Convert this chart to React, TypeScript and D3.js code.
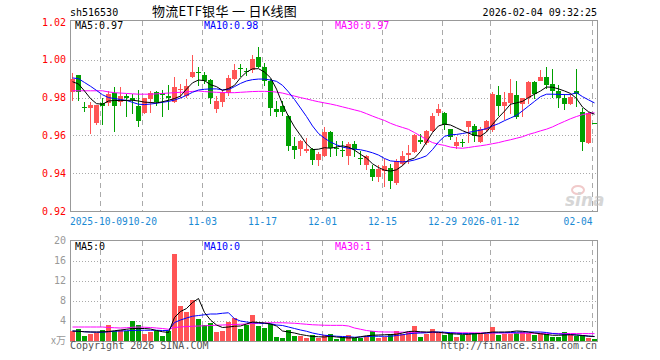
import React from 'react';
import * as d3 from 'd3';

const opens = [0.983,0.992,0.975,0.9744,0.9665,0.977,0.9772,0.9825,0.9775,0.9811,
0.9798,0.9754,0.9721,0.9793,0.9832,0.9825,0.981,0.9775,0.984,0.9811,
0.9907,0.9935,0.992,0.9895,0.974,0.9775,0.9825,0.99,0.9958,0.994,
0.9945,1.0015,0.996,0.989,0.974,0.9755,0.9705,0.9543,0.9527,0.952,
0.953,0.947,0.949,0.962,0.9535,0.9525,0.949,0.9556,0.948,0.9442,
0.942,0.938,0.941,0.9428,0.935,0.945,0.9498,0.951,0.9577,0.9562,
0.9621,0.9718,0.972,0.9632,0.9545,0.9563,0.9644,0.965,0.9565,0.9626,
0.9626,0.9816,0.9754,0.9772,0.9816,0.9767,0.9796,0.9884,0.9889,0.9907,
0.9872,0.9833,0.9798,0.9767,0.9837,0.9723,0.9562,0.9665];
const highs = [0.993,0.992,0.9775,0.9775,0.9763,0.9798,0.9837,0.9854,0.9854,0.9819,
0.9817,0.984,0.98,0.9837,0.9837,0.984,0.9867,0.9911,0.987,0.9898,
1.0026,0.9963,0.9935,0.99,0.981,0.984,0.9918,0.9978,0.998,0.9955,
1.0026,1.0068,0.9985,0.99,0.9784,0.978,0.971,0.959,0.9578,0.9585,
0.9535,0.951,0.9645,0.9625,0.957,0.957,0.9565,0.957,0.952,0.9495,
0.9442,0.9442,0.9477,0.9447,0.9477,0.9516,0.9547,0.961,0.9605,0.963,
0.972,0.9767,0.9725,0.9635,0.959,0.9583,0.9675,0.966,0.9645,0.968,
0.983,0.9863,0.983,0.9898,0.989,0.98,0.9886,0.9886,0.9946,0.996,
0.995,0.9868,0.9819,0.982,0.995,0.9746,0.9725,0.9668];
const lows = [0.978,0.978,0.9723,0.9605,0.9653,0.9653,0.9753,0.9618,0.9758,0.97,
0.9714,0.9647,0.9714,0.9717,0.9758,0.97,0.9735,0.977,0.98,0.98,
0.9904,0.9863,0.987,0.9765,0.972,0.975,0.981,0.9893,0.991,0.9915,
0.993,0.9958,0.986,0.9705,0.97,0.9705,0.9516,0.9477,0.949,0.9505,
0.9446,0.9437,0.9485,0.9486,0.949,0.9486,0.9442,0.9486,0.9442,0.9416,
0.936,0.9356,0.9325,0.9316,0.9337,0.9437,0.9447,0.9505,0.9556,0.955,
0.962,0.9705,0.9626,0.9574,0.953,0.9538,0.956,0.9565,0.956,0.962,
0.962,0.9705,0.968,0.9714,0.9688,0.9696,0.9767,0.979,0.9886,0.9846,
0.98,0.9746,0.9735,0.9763,0.9749,0.9518,0.9555,0.966];
const closes = [0.99,0.983,0.9745,0.9763,0.9763,0.9754,0.9819,0.9754,0.9811,0.9798,
0.9785,0.9675,0.9798,0.9825,0.9775,0.9814,0.98,0.9854,0.9845,0.9863,
0.9937,0.9932,0.989,0.98,0.978,0.9822,0.9905,0.9945,0.9955,0.9935,
1.0005,0.9963,0.989,0.9745,0.9723,0.9723,0.9543,0.9525,0.957,0.953,
0.9468,0.95,0.962,0.9535,0.9528,0.9515,0.9556,0.953,0.9475,0.9491,
0.938,0.942,0.944,0.936,0.9463,0.949,0.9507,0.96,0.9566,0.9621,
0.9705,0.9742,0.9653,0.9591,0.9565,0.956,0.9674,0.9595,0.9635,0.9674,
0.982,0.9754,0.9775,0.9825,0.9696,0.9796,0.9884,0.9819,0.9911,0.9868,
0.9833,0.9798,0.9767,0.9805,0.9819,0.9565,0.972,0.9662];
const volumes = [1.9,2.37,0.9,1.37,1.5,2.17,3.03,1.83,2.03,1.83,
3.9,3.03,1.37,1.7,1.83,0.9,1.9,17.3,6.9,5.7,
8.03,4.23,3.03,3.5,1.7,1.9,3.7,4.5,2.37,3.03,
5.1,2.9,2.5,3.23,0.7,0.5,2.03,0.9,0.9,0.5,
1.03,0.57,1.17,1.3,0.23,0.63,1.03,0.57,0.5,0.9,
1.83,0.5,0.7,1.23,1.9,1.23,1.7,2.9,0.7,1.37,
2.3,1.5,1.17,1.57,0.7,1.03,1.23,1.5,1.23,1.3,
2.7,1.17,1.23,1.3,1.57,1.7,1.5,1.17,1.5,1.23,
0.7,0.7,1.7,1.17,0.9,1.03,0.5,0.3];
const ma5 = [0.9884,0.9872,0.9835,0.9795,0.9768,0.9765,0.9782,0.9785,0.9784,0.9785,
0.9786,0.9782,0.9776,0.9774,0.9772,0.9778,0.9786,0.9795,0.9808,0.9845,
0.9878,0.9893,0.989,0.9868,0.9858,0.9838,0.9848,0.9865,0.9905,0.9935,
0.9952,0.9953,0.9935,0.9905,0.9845,0.9765,0.97,0.9645,0.96,0.9555,
0.9525,0.9527,0.9535,0.9532,0.9538,0.9545,0.9538,0.9522,0.95,0.948,
0.945,0.943,0.9416,0.9411,0.9418,0.944,0.947,0.948,0.9515,0.9565,
0.9615,0.965,0.966,0.9655,0.964,0.9625,0.9612,0.96,0.9596,0.9618,
0.9658,0.9695,0.9728,0.9765,0.9772,0.978,0.98,0.9818,0.9835,0.9856,
0.9855,0.9846,0.9835,0.9822,0.9795,0.975,0.9725,0.9712];
const ma10 = [0.9904,0.99,0.988,0.986,0.9838,0.9815,0.98,0.9795,0.979,0.9785,
0.9775,0.9765,0.9763,0.9766,0.977,0.9775,0.978,0.9787,0.9798,0.9812,
0.9828,0.984,0.9844,0.9846,0.9846,0.9841,0.9842,0.9858,0.9875,0.9888,
0.9895,0.9898,0.9898,0.9893,0.9886,0.9865,0.983,0.979,0.9745,0.97,
0.965,0.961,0.9585,0.9565,0.955,0.9538,0.9532,0.9527,0.9524,0.9517,
0.9508,0.9496,0.9478,0.9465,0.9462,0.946,0.9463,0.947,0.948,0.9492,
0.9525,0.9565,0.9595,0.9603,0.9605,0.961,0.9616,0.9622,0.9628,0.9636,
0.965,0.9662,0.9678,0.9692,0.9706,0.973,0.9755,0.978,0.9805,0.9818,
0.9818,0.9817,0.9816,0.9816,0.9826,0.9805,0.9788,0.9772];
const ma30 = [0.9836,0.9836,0.9836,0.9836,0.9836,0.9836,0.983,0.9826,0.9824,0.9822,
0.982,0.9818,0.9818,0.9818,0.982,0.9822,0.9824,0.9826,0.9828,0.983,
0.9833,0.9835,0.9832,0.983,0.9828,0.9827,0.9826,0.9826,0.9828,0.983,
0.9832,0.9833,0.9833,0.9832,0.9829,0.9824,0.9816,0.9808,0.98,0.9793,
0.9785,0.9778,0.9772,0.9766,0.9759,0.9751,0.9743,0.9735,0.9727,0.9715,
0.9702,0.969,0.9679,0.9664,0.9652,0.9642,0.9632,0.9615,0.9597,0.9578,
0.9562,0.9553,0.9547,0.9538,0.9534,0.9532,0.9536,0.9541,0.9545,0.955,
0.9556,0.9562,0.957,0.9577,0.9585,0.9593,0.9605,0.9614,0.9624,0.9633,
0.9645,0.966,0.9674,0.9688,0.97,0.971,0.9716,0.972];
const volMa5 = [1.9,1.85,1.75,1.7,1.7,1.72,1.8,1.95,2.1,2.25,
2.4,2.4,2.4,2.3,2.0,1.75,1.6,4.6,5.8,6.4,
7.6,8.4,5.6,4.1,3.1,2.6,2.7,2.85,2.9,3.3,
3.7,3.6,3.5,3.3,2.9,1.9,1.7,1.5,1.2,1.0,
0.8,0.75,0.7,0.85,0.7,0.6,0.5,0.55,0.75,0.95,
1.05,1.1,1.15,1.2,1.25,1.5,1.8,1.85,1.75,1.7,
1.7,1.65,1.5,1.35,1.28,1.23,1.25,1.35,1.4,1.55,
1.7,1.7,1.7,1.75,1.9,1.85,1.7,1.5,1.35,1.2,
1.05,1.05,1.1,1.15,1.1,1.0,0.85,0.8];
const volMa10 = [1.9,1.85,1.75,1.7,1.65,1.65,1.75,1.85,1.9,1.95,
2.0,2.05,2.05,2.05,2.05,2.0,2.0,3.6,4.1,4.5,
4.85,5.0,5.15,5.3,5.3,5.45,5.55,4.35,3.9,3.7,
3.55,3.5,3.4,3.35,3.1,3.0,2.7,2.4,2.1,1.85,
1.5,1.25,1.05,0.95,0.85,0.8,0.75,0.65,0.7,0.8,
0.85,0.85,0.85,0.85,1.0,1.15,1.35,1.45,1.5,1.55,
1.7,1.7,1.65,1.55,1.45,1.38,1.38,1.38,1.4,1.48,
1.57,1.57,1.57,1.6,1.65,1.7,1.7,1.7,1.7,1.6,
1.4,1.3,1.25,1.2,1.1,1.0,0.9,0.8];
const volMa30 = [2.7,2.7,2.7,2.7,2.7,2.7,2.6,2.55,2.5,2.55,
2.65,2.7,2.65,2.6,2.5,2.4,2.25,2.6,2.7,2.8,
2.85,2.9,2.95,3.0,3.05,3.1,3.15,3.2,3.25,3.3,
3.4,3.45,3.5,3.55,3.55,3.55,3.5,3.45,3.35,3.25,
3.15,3.1,3.05,3.03,3.03,3.03,2.9,2.5,2.25,2.0,
1.85,1.75,1.7,1.7,1.68,1.66,1.65,1.63,1.62,1.6,
1.6,1.58,1.57,1.56,1.55,1.55,1.54,1.53,1.52,1.51,
1.5,1.5,1.49,1.48,1.47,1.46,1.45,1.45,1.44,1.43,
1.42,1.41,1.4,1.4,1.39,1.38,1.38,1.37];

const priceTicks = [0.92, 0.94, 0.96, 0.98, 1.0, 1.02];
const priceGrid = [0.94, 0.96, 0.98, 1.0];
const volTicks = [4, 8, 12, 16, 20];
const volGrid = [4, 8, 12, 16];
const dateLabels = ['2025-10-09', '10-20', '11-03', '11-17', '12-01', '12-15', '12-29', '2026-01-12', '02-04'];
const dateIndex = [5, 12, 22, 32, 42, 52, 62, 70, 87];

const RED = '#ff5555';
const GREEN = '#00a000';
const MONO = '"DejaVu Sans Mono", "Liberation Mono", monospace';

export default function App() {
  const n = closes.length;
  const x = d3.scaleLinear().domain([0, n]).range([70, 70 + 6 * n]);
  const y = d3.scaleLinear().domain([0.92, 1.02]).range([211, 22]);
  const yv = d3.scaleLinear().domain([0, 20]).range([340.5, 240.5]);
  const cx = (i: number) => x(i) + 2.5;

  const priceLine = d3.line<number>().x((_, i) => cx(i)).y((d) => y(d));
  const volLine = d3.line<number>().x((_, i) => cx(i)).y((d) => yv(d));

  const L = 70, R = 597;
  const gridColor = '#aaaaaa';

  return (
    <svg width={660} height={360} style={{ position: 'absolute', left: 0, top: 0, background: '#fff' }}
      fontFamily={MONO} fontSize={10}>
      <rect x={0} y={0} width={660} height={360} fill="#fff" />
      {/* header */}
      <text x={70} y={16} fill="#000">sh516530</text>
      <text x={152} y={16} fill="#000" fontFamily='"Noto Sans CJK SC", sans-serif' fontSize={13} letterSpacing={0.3}>物流ETF银华 一 日K线图</text>
      <text x={597} y={16} fill="#000" textAnchor="end">2026-02-04 09:32:25</text>

      {/* main grid */}
      {priceGrid.map((p) => (
        <line key={'pg' + p} x1={L} x2={R} y1={Math.round(y(p)) + 0.5} y2={Math.round(y(p)) + 0.5}
          stroke={gridColor} strokeDasharray="1,2" shapeRendering="crispEdges" />
      ))}
      {dateIndex.map((k) => (
        <g key={'dg' + k}>
          <line x1={x(k) + 0.5} x2={x(k) + 0.5} y1={21} y2={211} stroke={gridColor} strokeDasharray="5,4" shapeRendering="crispEdges" />
          <line x1={x(k) + 0.5} x2={x(k) + 0.5} y1={241} y2={341} stroke={gridColor} strokeDasharray="5,4" shapeRendering="crispEdges" />
        </g>
      ))}
      {volGrid.map((v) => (
        <line key={'vg' + v} x1={L} x2={R} y1={Math.round(yv(v)) + 0.5} y2={Math.round(yv(v)) + 0.5}
          stroke={gridColor} strokeDasharray="1,2" shapeRendering="crispEdges" />
      ))}

      {/* borders */}
      <rect x={70.5} y={20.5} width={527} height={190.5} fill="none" stroke="#999" shapeRendering="crispEdges" />
      <rect x={70.5} y={240.5} width={527} height={100.5} fill="none" stroke="#999" shapeRendering="crispEdges" />

      {/* price axis labels */}
      {priceTicks.map((p) => (
        <text key={'pt' + p} x={66} y={y(p) + 3.5} fill="#ff0000" textAnchor="end">{p.toFixed(2)}</text>
      ))}
      {/* date labels: first clamped to the left edge, last to the right edge */}
      {dateIndex.map((k, j) => {
        const first = j === 0;
        const last = j === dateIndex.length - 1;
        return (
          <text key={'dl' + k} x={first ? 70 : x(k) + 0.5} y={225} fill="#1a8ad4" fontSize={9.6}
            textAnchor={first ? 'start' : last ? 'end' : 'middle'}>{dateLabels[j]}</text>
        );
      })}

      {/* sina watermark */}
      <g opacity={0.6}>
        <ellipse cx={578} cy={190} rx={6} ry={4} fill="none" stroke="#e8a8a8" strokeWidth={2} />
        <text x={565} y={206} fill="#bbbbbb" fontFamily='"DejaVu Sans", sans-serif' fontSize={17} fontWeight="bold" fontStyle="italic">sina</text>
      </g>

      {/* candles */}
      {closes.map((c, i) => {
        const o = opens[i];
        const up = c >= o;
        const col = up ? RED : GREEN;
        const top = Math.round(y(Math.max(o, c)));
        const bot = Math.round(y(Math.min(o, c)));
        const hy = Math.round(y(highs[i]));
        const ly = Math.round(y(lows[i]));
        return (
          <g key={'c' + i} shapeRendering="crispEdges">
            <rect x={x(i) + 2} y={hy} width={1} height={Math.max(1, ly - hy)} fill={col} />
            <rect x={x(i)} y={top} width={5} height={Math.max(1, bot - top)} fill={col} />
          </g>
        );
      })}

      {/* price MAs */}
      <path d={priceLine(ma30) || ''} fill="none" stroke="#ff00ff" strokeWidth={1} />
      <path d={priceLine(ma10) || ''} fill="none" stroke="#0000ff" strokeWidth={1} />
      <path d={priceLine(ma5) || ''} fill="none" stroke="#000000" strokeWidth={1} />

      <text x={75} y={29} fill="#000">MA5:0.97</text>
      <text x={204} y={29} fill="#0000ff">MA10:0.98</text>
      <text x={335} y={29} fill="#ff00ff">MA30:0.97</text>

      {/* volume axis labels */}
      {volTicks.map((v) => (
        <text key={'vt' + v} x={66} y={yv(v) + 3.5} fill="#999" textAnchor="end">{v}</text>
      ))}
      <text x={66} y={344} fill="#999" textAnchor="end" fontFamily='"Noto Sans CJK SC", sans-serif' fontSize={10}>x万</text>

      {/* volume bars */}
      {volumes.map((v, i) => {
        const up = closes[i] >= opens[i];
        const top = Math.round(yv(v));
        return (
          <rect key={'v' + i} x={x(i)} y={top} width={5} height={Math.max(1, 341 - top)}
            fill={up ? RED : GREEN} shapeRendering="crispEdges" />
        );
      })}

      <path d={volLine(volMa30) || ''} fill="none" stroke="#ff00ff" strokeWidth={1} />
      <path d={volLine(volMa10) || ''} fill="none" stroke="#0000ff" strokeWidth={1} />
      <path d={volLine(volMa5) || ''} fill="none" stroke="#000000" strokeWidth={1} />

      <text x={75} y={250} fill="#000">MA5:0</text>
      <text x={204} y={250} fill="#0000ff">MA10:0</text>
      <text x={335} y={250} fill="#ff00ff">MA30:1</text>

      {/* footer */}
      <text x={70} y={349} fill="#555">Copyright 2026 SINA.COM</text>
      <text x={597} y={349} fill="#555" textAnchor="end">http://finance.sina.com.cn</text>
    </svg>
  );
}
